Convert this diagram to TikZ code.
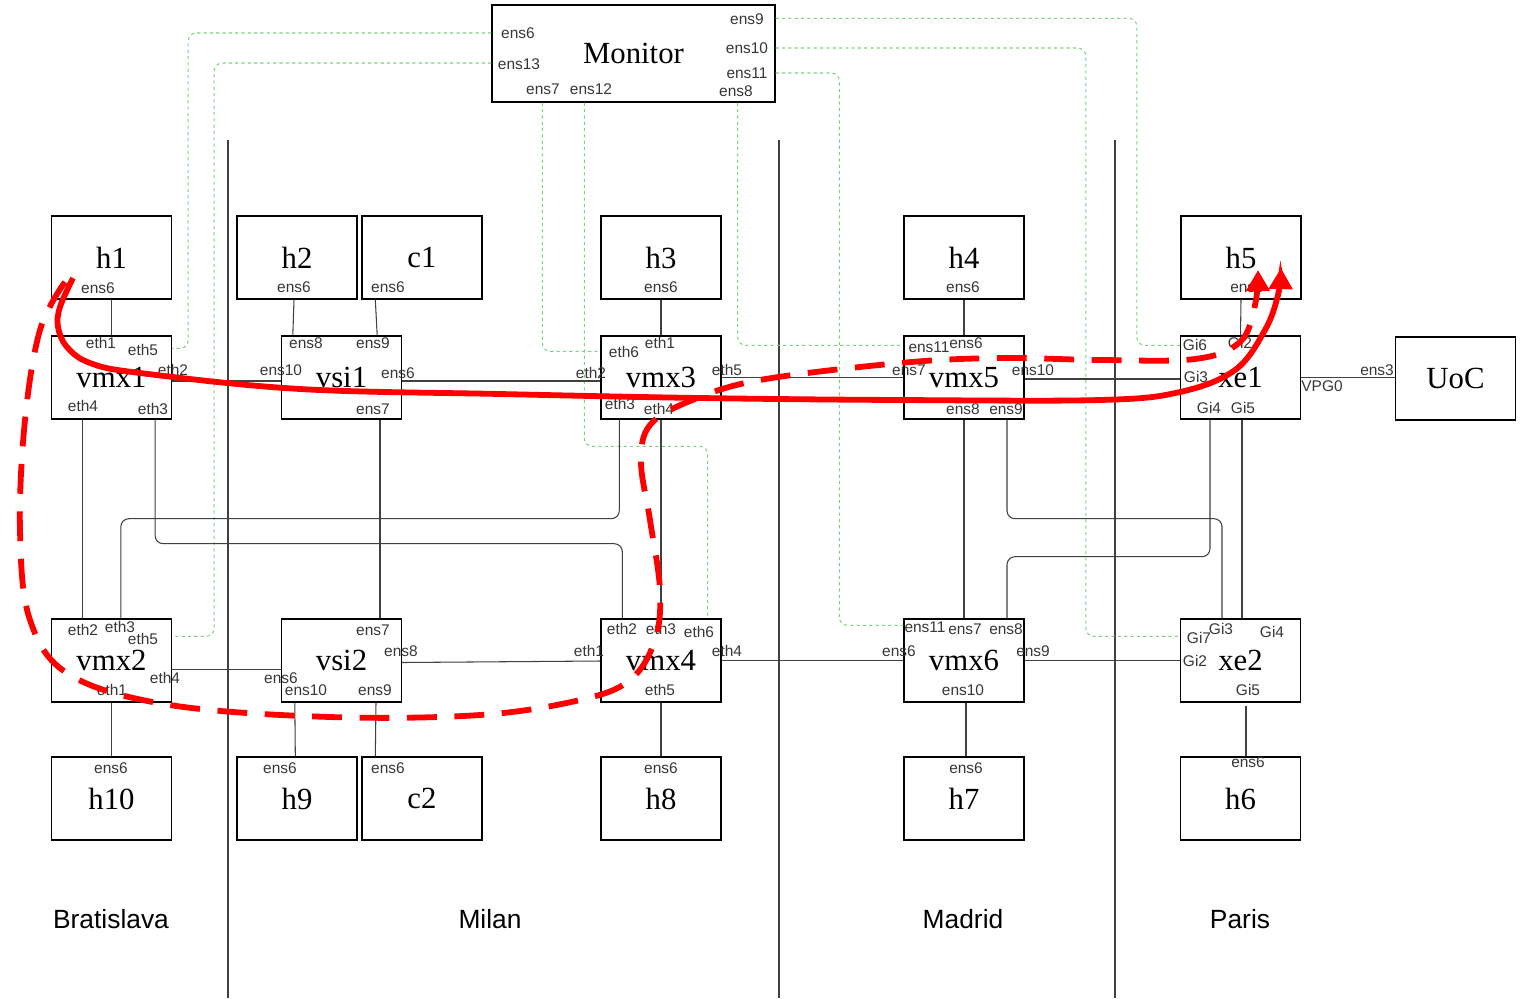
\documentclass[tikz,border=0pt]{standalone}
\usepackage{fontspec}
\setmainfont{Liberation Serif}
\setsansfont{Liberation Sans}
\usetikzlibrary{arrows.meta,calc}
\definecolor{mongreen}{RGB}{125,208,125}
\definecolor{portgray}{RGB}{55,55,55}

\begin{document}
\begin{tikzpicture}[
  x=0.02cm, y=-0.02cm,
  box/.style={draw=black, line width=0.8pt, fill=white, minimum width=2.4cm, minimum height=1.66cm,
              inner sep=0pt, font=\fontsize{17.5}{20}\selectfont},
  port/.style={inner sep=0pt, text=portgray, font=\sffamily\fontsize{8.8}{10}\selectfont},
  city/.style={inner sep=0pt, font=\sffamily\fontsize{15}{18}\selectfont},
  link/.style={draw=black!75, line width=0.6pt},
  trunk/.style={link, rounded corners=0.16cm},
  monlink/.style={draw=mongreen, line width=0.6pt, dash pattern=on 1.8pt off 1.8pt, rounded corners=0.16cm},
  flow/.style={draw=red, line width=3.3pt, -{Triangle[length=12pt,width=13pt]}},
  flowback/.style={flow, dash pattern=on 17pt off 10pt}
]
\useasboundingbox (0,0) rectangle (1524,998);

% site borders
\draw[link] (228,140) -- (228,998);
\draw[link] (779,140) -- (779,998);
\draw[link] (1115,140) -- (1115,998);

% boxes
\node[box, minimum width=5.66cm, minimum height=1.94cm] (Monitor) at (633.5,53.5) {Monitor};
\node[box] (h1) at (111.5,257.5) {h1};
\node[box] (h2) at (297,257.5) {h2};
\node[box] (c1) at (422,257.5) {c1};
\node[box] (h3) at (661,257.5) {h3};
\node[box] (h4) at (964,257.5) {h4};
\node[box] (h5) at (1241,257.5) {h5};
\node[box] (vmx1) at (111.5,377.5) {vmx1};
\node[box] (vsi1) at (341.5,377.5) {vsi1};
\node[box] (vmx3) at (661,377.5) {vmx3};
\node[box] (vmx5) at (964,377.5) {vmx5};
\node[box] (xe1) at (1240.5,377.5) {xe1};
\node[box] (UoC) at (1455.5,378.5) {UoC};
\node[box] (vmx2) at (111.5,660.5) {vmx2};
\node[box] (vsi2) at (341.5,660.5) {vsi2};
\node[box] (vmx4) at (661,660.5) {vmx4};
\node[box] (vmx6) at (964,660.5) {vmx6};
\node[box] (xe2) at (1240.5,660.5) {xe2};
\node[box] (h10) at (111.5,798.5) {h10};
\node[box] (h9) at (297,798.5) {h9};
\node[box] (c2) at (422,798.5) {c2};
\node[box] (h8) at (661,798.5) {h8};
\node[box] (h7) at (964,798.5) {h7};
\node[box] (h6) at (1240.5,798.5) {h6};

% monitor taps
\draw[monlink] ($(Monitor.west)+(0,-20.5)$) -| ($(vmx1.north east)+(16,13)$) -- ($(vmx1.north east)+(0,13)$);
\draw[monlink] ($(Monitor.west)+(0,9.5)$) -| ($(vmx2.north east)+(42,18)$) -- ($(vmx2.north east)+(0,18)$);
\draw[monlink] ($(Monitor.south west)+(51,0)$) |- ($(vmx3.north west)+(0,16)$);
\draw[monlink] ($(Monitor.south west)+(93,0)$) |- ($(vmx4.north east)+(-14,-172)$) -- ($(vmx4.north east)+(-14,0)$);
\draw[monlink] ($(Monitor.south east)+(-38,0)$) |- ($(vmx5.north west)+(0,10)$);
\draw[monlink] ($(Monitor.north east)+(0,14)$) -| ($(xe1.north west)+(-43,10)$) -- ($(xe1.north west)+(0,10)$);
\draw[monlink] ($(Monitor.east)+(0,-5.5)$) -| ($(xe2.north west)+(-94,18)$) -- ($(xe2.north west)+(0,18)$);
\draw[monlink] ($(Monitor.east)+(0,19.5)$) -| ($(vmx6.north west)+(-64,7)$) -- ($(vmx6.north west)+(0,7)$);

% links
\draw[link] (h1.south) -- (vmx1.north);
\draw[link] ($(h2.south)+(-3,0)$) -- ($(vsi1.north west)+(12,0)$);
\draw[link] ($(c1.south west)+(14,0)$) -- ($(vsi1.north east)+(-25,0)$);
\draw[link] (h3.south) -- (vmx3.north);
\draw[link] (h4.south) -- (vmx5.north);
\draw[link] (h5.south) -- (xe1.north);
\draw[link] ($(vmx1.east)+(0,3.5)$) -- ($(vsi1.west)+(0,3.5)$);
\draw[link] ($(vsi1.east)+(0,3.5)$) -- ($(vmx3.west)+(0,3.5)$);
\draw[link] (vmx3.east) -- (vmx5.west);
\draw[link] ($(vmx5.east)+(0,1.5)$) -- ($(xe1.west)+(0,1.5)$);
\draw[link] (xe1.east) -- ($(UoC.west)+(0,-1)$);
\draw[link] ($(vmx1.south west)+(32,0)$) -- ($(vmx2.north west)+(32,0)$);
\draw[trunk] ($(vmx1.south east)+(-17,0)$) -- ++(0,124) -| ($(vmx4.north west)+(22,0)$);
\draw[trunk] ($(vmx3.south west)+(19,0)$) -- ++(0,99) -| ($(vmx2.north west)+(70,0)$);
\draw[link] ($(vsi1.south)+(38.5,0)$) -- ($(vsi2.north)+(38.5,0)$);
\draw[link] (vmx3.south) -- (vmx4.north);
\draw[link] (vmx5.south) -- (vmx6.north);
\draw[trunk] ($(vmx5.south)+(43,0)$) -- ++(0,99) -| ($(xe2.north)+(-18.5,0)$);
\draw[trunk] ($(xe1.south)+(-30.5,0)$) -- ++(0,137) -| ($(vmx6.north)+(43,0)$);
\draw[link] ($(xe1.south)+(1.5,0)$) -- ($(xe2.north)+(1.5,0)$);
\draw[link] ($(vmx2.east)+(0,9)$) -- ($(vsi2.west)+(0,9)$);
\draw[link] ($(vsi2.east)+(0,2)$) -- ($(vmx4.west)+(0,0.5)$);
\draw[link] (vmx4.east) -- (vmx6.west);
\draw[link] (vmx6.east) -- (xe2.west);
\draw[link] (vmx2.south) -- (h10.north);
\draw[link] ($(vsi2.south west)+(14,0)$) -- ($(h9.north west)+(59,0)$);
\draw[link] ($(vsi2.south)+(34.5,0)$) -- ($(c2.north west)+(14,0)$);
\draw[link] (vmx4.south) -- (h8.north);
\draw[link] ($(vmx6.south)+(2,0)$) -- ($(h7.north)+(2,0)$);
\draw[link] ($(xe2.south)+(5.5,3)$) -- ($(h6.north)+(5.5,0)$);

% interface names
\node[port] (mon-ens6) at (518,33) {ens6};
\node[port] (mon-ens13) at (519,64) {ens13};
\node[port] (mon-ens7) at (543,89) {ens7};
\node[port] (mon-ens12) at (591,89) {ens12};
\node[port] (mon-ens9) at (747,19) {ens9};
\node[port] (mon-ens10) at (747,48) {ens10};
\node[port] (mon-ens11) at (747,73) {ens11};
\node[port] (mon-ens8) at (736,91) {ens8};

\node[port] (h1-ens6) at (98,288) {ens6};
\node[port] (h2-ens6) at (294,287) {ens6};
\node[port] (c1-ens6) at (388,287) {ens6};
\node[port] (h3-ens6) at (661,287) {ens6};
\node[port] (h4-ens6) at (963,287) {ens6};
\node[port] (h5-ens6) at (1247,287) {ens6};

\node[port] (vmx1-eth1) at (101,343) {eth1};
\node[port] (vmx1-eth5) at (143,350) {eth5};
\node[port] (vmx1-eth2) at (173,370) {eth2};
\node[port] (vmx1-eth4) at (83,406) {eth4};
\node[port] (vmx1-eth3) at (153,409) {eth3};

\node[port] (vsi1-ens8) at (306,343) {ens8};
\node[port] (vsi1-ens9) at (373,343) {ens9};
\node[port] (vsi1-ens10) at (281,370) {ens10};
\node[port] (vsi1-ens6) at (398,373) {ens6};
\node[port] (vsi1-ens7) at (373,409) {ens7};

\node[port] (vmx3-eth1) at (660,343) {eth1};
\node[port] (vmx3-eth6) at (624,352) {eth6};
\node[port] (vmx3-eth2) at (591,373) {eth2};
\node[port] (vmx3-eth5) at (727,370) {eth5};
\node[port] (vmx3-eth3) at (620,404) {eth3};
\node[port] (vmx3-eth4) at (659,409) {eth4};

\node[port] (vmx5-ens11) at (929,347) {ens11};
\node[port] (vmx5-ens6) at (966,343) {ens6};
\node[port] (vmx5-ens7) at (909,370) {ens7};
\node[port] (vmx5-ens10) at (1033,370) {ens10};
\node[port] (vmx5-ens8) at (963,409) {ens8};
\node[port] (vmx5-ens9) at (1006,409) {ens9};

\node[port] (xe1-gi6) at (1195,345) {Gi6};
\node[port] (xe1-gi2) at (1240,343) {Gi2};
\node[port] (xe1-gi3) at (1196,377) {Gi3};
\node[port] (xe1-gi4) at (1209,408) {Gi4};
\node[port] (xe1-gi5) at (1243,408) {Gi5};
\node[port] (xe1-vpg0) at (1322,386) {VPG0};
\node[port] (uoc-ens3) at (1377,370) {ens3};

\node[port] (vmx2-eth2) at (83,630) {eth2};
\node[port] (vmx2-eth3) at (120,627) {eth3};
\node[port] (vmx2-eth5) at (143,639) {eth5};
\node[port] (vmx2-eth4) at (165,678) {eth4};
\node[port] (vmx2-eth1) at (112,690) {eth1};

\node[port] (vsi2-ens7) at (373,630) {ens7};
\node[port] (vsi2-ens8) at (401,651) {ens8};
\node[port] (vsi2-ens6) at (281,678) {ens6};
\node[port] (vsi2-ens10) at (306,690) {ens10};
\node[port] (vsi2-ens9) at (375,690) {ens9};

\node[port] (vmx4-eth2) at (622,629) {eth2};
\node[port] (vmx4-eth3) at (661,629) {eth3};
\node[port] (vmx4-eth6) at (699,632) {eth6};
\node[port] (vmx4-eth1) at (589,651) {eth1};
\node[port] (vmx4-eth4) at (727,651) {eth4};
\node[port] (vmx4-eth5) at (660,690) {eth5};

\node[port] (vmx6-ens11) at (925,627) {ens11};
\node[port] (vmx6-ens7) at (965,629) {ens7};
\node[port] (vmx6-ens8) at (1006,629) {ens8};
\node[port] (vmx6-ens6) at (899,651) {ens6};
\node[port] (vmx6-ens9) at (1033,651) {ens9};
\node[port] (vmx6-ens10) at (963,690) {ens10};

\node[port] (xe2-gi7) at (1199,638) {Gi7};
\node[port] (xe2-gi3) at (1221,629) {Gi3};
\node[port] (xe2-gi4) at (1272,632) {Gi4};
\node[port] (xe2-gi2) at (1195,661) {Gi2};
\node[port] (xe2-gi5) at (1248,690) {Gi5};

\node[port] (h10-ens6) at (111,768) {ens6};
\node[port] (h9-ens6) at (280,768) {ens6};
\node[port] (c2-ens6) at (388,768) {ens6};
\node[port] (h8-ens6) at (661,768) {ens6};
\node[port] (h7-ens6) at (966,768) {ens6};
\node[port] (h6-ens6) at (1248,762) {ens6};

% sites
\node[city] (bratislava) at (111,919) {Bratislava};
\node[city] (milan) at (490,919) {Milan};
\node[city] (madrid) at (963,919) {Madrid};
\node[city] (paris) at (1240,919) {Paris};

% traffic paths
\coordinate (fwd-start) at (73,278);
\coordinate (fwd-end) at (1281,268);
\draw[flow] plot[smooth, tension=0.6] coordinates {(fwd-start) (60,307) (58,327) (67,347) (90,363) (140,373)
  (300,389) (500,394) (700,398) (900,400) (1100,400) (1180,392) (1235,370) (1265,330) (1278,295) (fwd-end)};
\coordinate (back-start) at (65,282);
\coordinate (back-end) at (1258,270);
\draw[flowback] plot[smooth, tension=0.6] coordinates {(back-start) (40,330) (25,420) (20,530) (30,620) (70,675)
  (170,705) (330,717) (480,715) (580,700) (630,680) (655,640) (660,590) (650,520) (641,462) (650,425)
  (690,401) (760,380) (900,363) (1000,358) (1100,360) (1195,359) (1240,342) (1255,305) (back-end)};
\end{tikzpicture}
\end{document}
